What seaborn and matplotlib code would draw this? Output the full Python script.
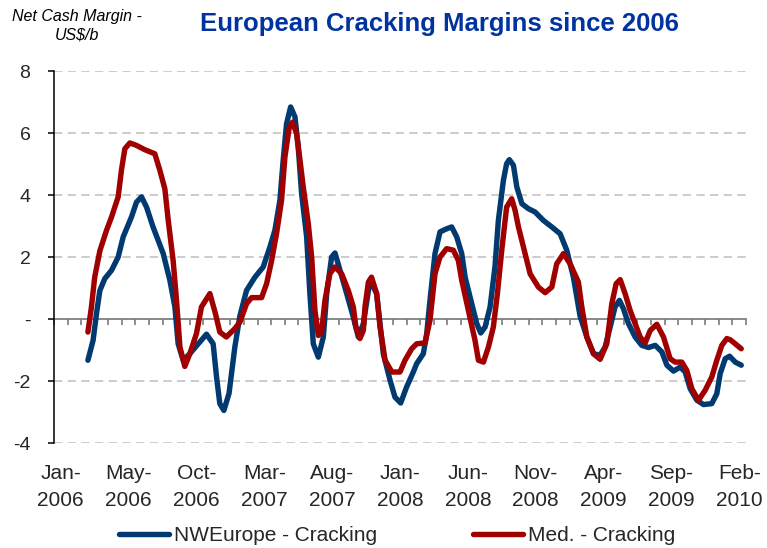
import matplotlib
matplotlib.use("Agg")
import matplotlib.pyplot as plt
import numpy as np
import pandas as pd
import seaborn as sns


# x = months since Jan-2006, y = US$/b
NWE_MONTH = [2.0, 2.38, 2.63, 2.88, 3.24, 3.74, 4.23, 4.6, 5.21, 5.58, 5.95, 6.32, 6.8,
             7.55, 8.04, 8.41, 8.65, 9.02, 9.51, 10.13, 10.74, 11.23, 11.48, 11.72, 12.02,
             12.4, 12.83, 13.2, 13.69, 14.31, 14.92, 15.41, 15.78, 16.15, 16.39, 16.64,
             16.94, 17.26, 17.5, 17.75, 18.12, 18.36, 18.61, 18.98, 19.35, 19.6, 19.96,
             20.21, 20.58, 21.07, 21.56, 21.93, 22.3, 22.79, 23.28, 23.77, 24.27, 24.63,
             25.05, 25.49, 25.98, 26.23, 26.72, 26.97, 27.21, 27.58, 27.95, 28.44, 28.81,
             29.18, 29.55, 29.8, 30.29, 30.66, 30.95, 31.27, 31.64, 32.0, 32.25, 32.62,
             32.86, 33.06, 33.36, 33.61, 33.98, 34.46, 34.96, 35.57, 36.19, 36.8, 37.29,
             37.78, 38.27, 38.77, 39.26, 39.75, 40.12, 40.49, 40.85, 41.17, 41.47, 41.84,
             42.33, 42.82, 43.32, 43.81, 44.3, 44.67, 45.16, 45.65, 46.02, 46.39, 46.88,
             47.37, 47.98, 48.35, 48.6, 48.97, 49.29, 49.71, 50.15]
NWE_MARGIN = [-1.33, -0.69, 0.17, 0.92, 1.30, 1.57, 2.0, 2.65, 3.29, 3.77, 3.94, 3.61, 2.97,
              2.11, 1.25, 0.39, -0.8, -1.33, -1.12, -0.8, -0.49, -0.8, -1.87, -2.73, -2.95,
              -2.4, -0.9, 0.1, 0.92, 1.35, 1.68, 2.32, 2.86, 3.83, 5.12, 6.3,
              6.84, 6.52, 5.55, 4.04, 2.65, 0.82, -0.8, -1.23, -0.58, 0.82, 2.0,
              2.13, 1.57, 0.82, 0.06, -0.58, -0.15, 1.25, 0.82, -1.12, -1.98, -2.52,
              -2.71, -2.19, -1.71, -1.44, -1.12, -0.47, 0.6, 2.11, 2.81, 2.91, 2.97,
              2.65, 2.11, 1.35, 0.49, -0.15, -0.45, -0.26, 0.39, 1.68, 3.18, 4.47,
              5.01, 5.14, 4.96, 4.26, 3.72, 3.56, 3.45, 3.18, 2.97, 2.75, 2.22,
              1.35, 0.1, -0.58, -1.12, -1.17, -0.9, -0.26, 0.39, 0.6, 0.33, -0.15,
              -0.58, -0.85, -0.92, -0.85, -1.06, -1.49, -1.68, -1.55, -1.71, -2.25, -2.62,
              -2.76, -2.73, -2.41, -1.76, -1.28, -1.2, -1.39, -1.49]

MED_MONTH = [2.0, 2.26, 2.5, 2.88, 3.37, 3.74, 4.23, 4.47, 4.72, 5.09, 5.58, 6.2, 6.93,
             7.3, 7.67, 7.92, 8.28, 8.53, 8.78, 9.14, 9.51, 10.0, 10.37, 10.99, 11.4,
             11.72, 12.2, 12.83, 13.2, 13.69, 14.06, 14.8, 15.17, 15.54, 15.9, 16.27,
             16.52, 16.84, 17.08, 17.38, 17.63, 17.87, 18.24, 18.49, 18.73, 18.98, 19.22,
             19.47, 19.83, 20.21, 20.7, 21.19, 21.56, 21.75, 22.05, 22.3, 22.42, 22.67,
             22.9, 23.28, 23.53, 23.9, 24.4, 25.0, 25.37, 25.86, 26.23, 26.85, 27.21,
             27.58, 27.95, 28.44, 28.93, 29.3, 29.55, 30.04, 30.53, 30.78, 31.15, 31.52,
             31.88, 32.18, 32.5, 32.86, 33.23, 33.48, 33.73, 34.1, 34.59, 35.2, 35.7,
             36.19, 36.55, 37.05, 37.54, 38.15, 38.4, 38.77, 39.26, 39.75, 40.24, 40.61,
             40.93, 41.23, 41.59, 41.96, 42.33, 42.7, 43.07, 43.44, 43.93, 44.42, 44.91,
             45.28, 45.77, 46.14, 46.51, 47.0, 47.49, 47.98, 48.35, 48.72, 49.09, 49.34,
             49.71, 50.15]
MED_MARGIN = [-0.42, 0.39, 1.35, 2.2, 2.86, 3.29, 3.94, 4.8, 5.49, 5.68, 5.6, 5.46, 5.33,
              4.8, 4.2, 3.18, 1.89, 0.6, -0.9, -1.53, -1.12, -0.47, 0.39, 0.82, 0.17,
              -0.42, -0.58, -0.31, -0.1, 0.49, 0.69, 0.69, 1.14, 1.89, 2.75, 3.83,
              5.23, 6.19, 6.35, 5.98, 5.12, 4.26, 3.08, 2.0, 0.28, -0.53, -0.42,
              0.6, 1.46, 1.68, 1.46, 0.92, 0.39, -0.26, -0.63, -0.37, 0.39, 1.19,
              1.35, 0.82, -0.26, -1.33, -1.71, -1.71, -1.33, -0.96, -0.8, -0.77, -0.04,
              1.46, 2.0, 2.27, 2.22, 1.89, 1.25, 0.28, -0.69, -1.33, -1.39, -0.9,
              -0.26, 0.82, 2.22, 3.61, 3.88, 3.51, 2.97, 2.32, 1.46, 1.03, 0.85,
              1.03, 1.78, 2.11, 1.78, 1.19, 0.39, -0.58, -1.12, -1.3, -0.8, 0.49,
              1.14, 1.27, 0.82, 0.28, -0.15, -0.58, -0.77, -0.37, -0.17, -0.58, -1.28,
              -1.39, -1.39, -1.66, -2.25, -2.62, -2.3, -1.87, -1.33, -0.85, -0.63, -0.67,
              -0.8, -0.96]

TICK_MONTHS = ["Jan", "May", "Oct", "Mar", "Aug", "Jan", "Jun", "Nov", "Apr", "Sep", "Feb"]
TICK_YEARS = [2006, 2006, 2006, 2007, 2007, 2008, 2008, 2008, 2009, 2009, 2010]

NWE_LABEL = "NWEurope - Cracking"
MED_LABEL = "Med. - Cracking"
COLORS = {NWE_LABEL: "#003A70", MED_LABEL: "#A00000"}


def main() -> None:
    df = pd.concat([
        pd.DataFrame({"month": NWE_MONTH, "margin": NWE_MARGIN, "series": NWE_LABEL}),
        pd.DataFrame({"month": MED_MONTH, "margin": MED_MARGIN, "series": MED_LABEL}),
    ], ignore_index=True)

    sns.set_theme(style="white")
    plt.rcParams["font.family"] = ["Liberation Sans", "DejaVu Sans"]

    fig = plt.figure(figsize=(7.67, 5.48), dpi=100)
    ax = fig.add_axes([0.0704, 0.1916, 0.9022, 0.6788])

    sns.lineplot(data=df, x="month", y="margin", hue="series", palette=COLORS,
                 estimator=None, sort=False, linewidth=3.9, ax=ax, legend=False)
    for line in ax.get_lines():
        line.set_solid_joinstyle("round")
        line.set_solid_capstyle("round")

    ax.set_xlim(-0.5, 50.5)
    ax.set_ylim(-4, 8)
    ax.set_xlabel("")
    ax.set_ylabel("")

    # y axis
    yticks = [-4, -2, 0, 2, 4, 6, 8]
    ax.set_yticks(yticks)
    ax.set_yticklabels(["-" if v == 0 else str(v) for v in yticks])
    ax.tick_params(axis="y", direction="out", length=4, width=1.1, color="black",
                   labelsize=14, pad=13, left=True)
    for v in yticks:
        if v != 0:
            ax.axhline(v, color="#C4C4C4", linewidth=1.2, linestyle=(0, (5, 3.2)),
                       zorder=0)

    for side in ["top", "right", "bottom"]:
        ax.spines[side].set_visible(False)
    ax.spines["left"].set_color("black")
    ax.spines["left"].set_linewidth(1.1)

    # category labels at the bottom
    ax.set_xticks(np.arange(0, 51, 5))
    ax.set_xticklabels([f"{m}-\n{y}" for m, y in zip(TICK_MONTHS, TICK_YEARS)],
                       linespacing=1.55)
    ax.tick_params(axis="x", length=0, labelsize=15, pad=15)

    # zero line with month tick marks
    zero = ax.secondary_xaxis(1 / 3)
    zero.set_xticks(np.arange(-0.5, 51, 1))
    zero.tick_params(axis="x", direction="out", length=4, width=1.1, color="#707070",
                     labelbottom=False, bottom=True)
    zero.spines["bottom"].set_color("#808080")
    zero.spines["bottom"].set_linewidth(1.3)

    fig.text(0.573, 0.956, "European Cracking Margins since 2006", ha="center",
             va="center", fontsize=18.5, fontweight="bold", color="#0033A0")
    fig.text(0.1, 0.953, "Net Cash Margin -\nUS$/b", ha="center", va="center",
             fontsize=11.5, fontstyle="italic", linespacing=1.3, color="black")

    handles = [plt.Line2D([], [], color=COLORS[k], linewidth=3.9) for k in COLORS]
    fig.legend(handles, list(COLORS), loc="center", bbox_to_anchor=(0.518, 0.023),
               ncol=2, frameon=False, fontsize=15, handlelength=2.4,
               handletextpad=0.25, columnspacing=4.6)

    fig.savefig("out.png", dpi=100)
    plt.close(fig)


if __name__ == "__main__":
    main()
